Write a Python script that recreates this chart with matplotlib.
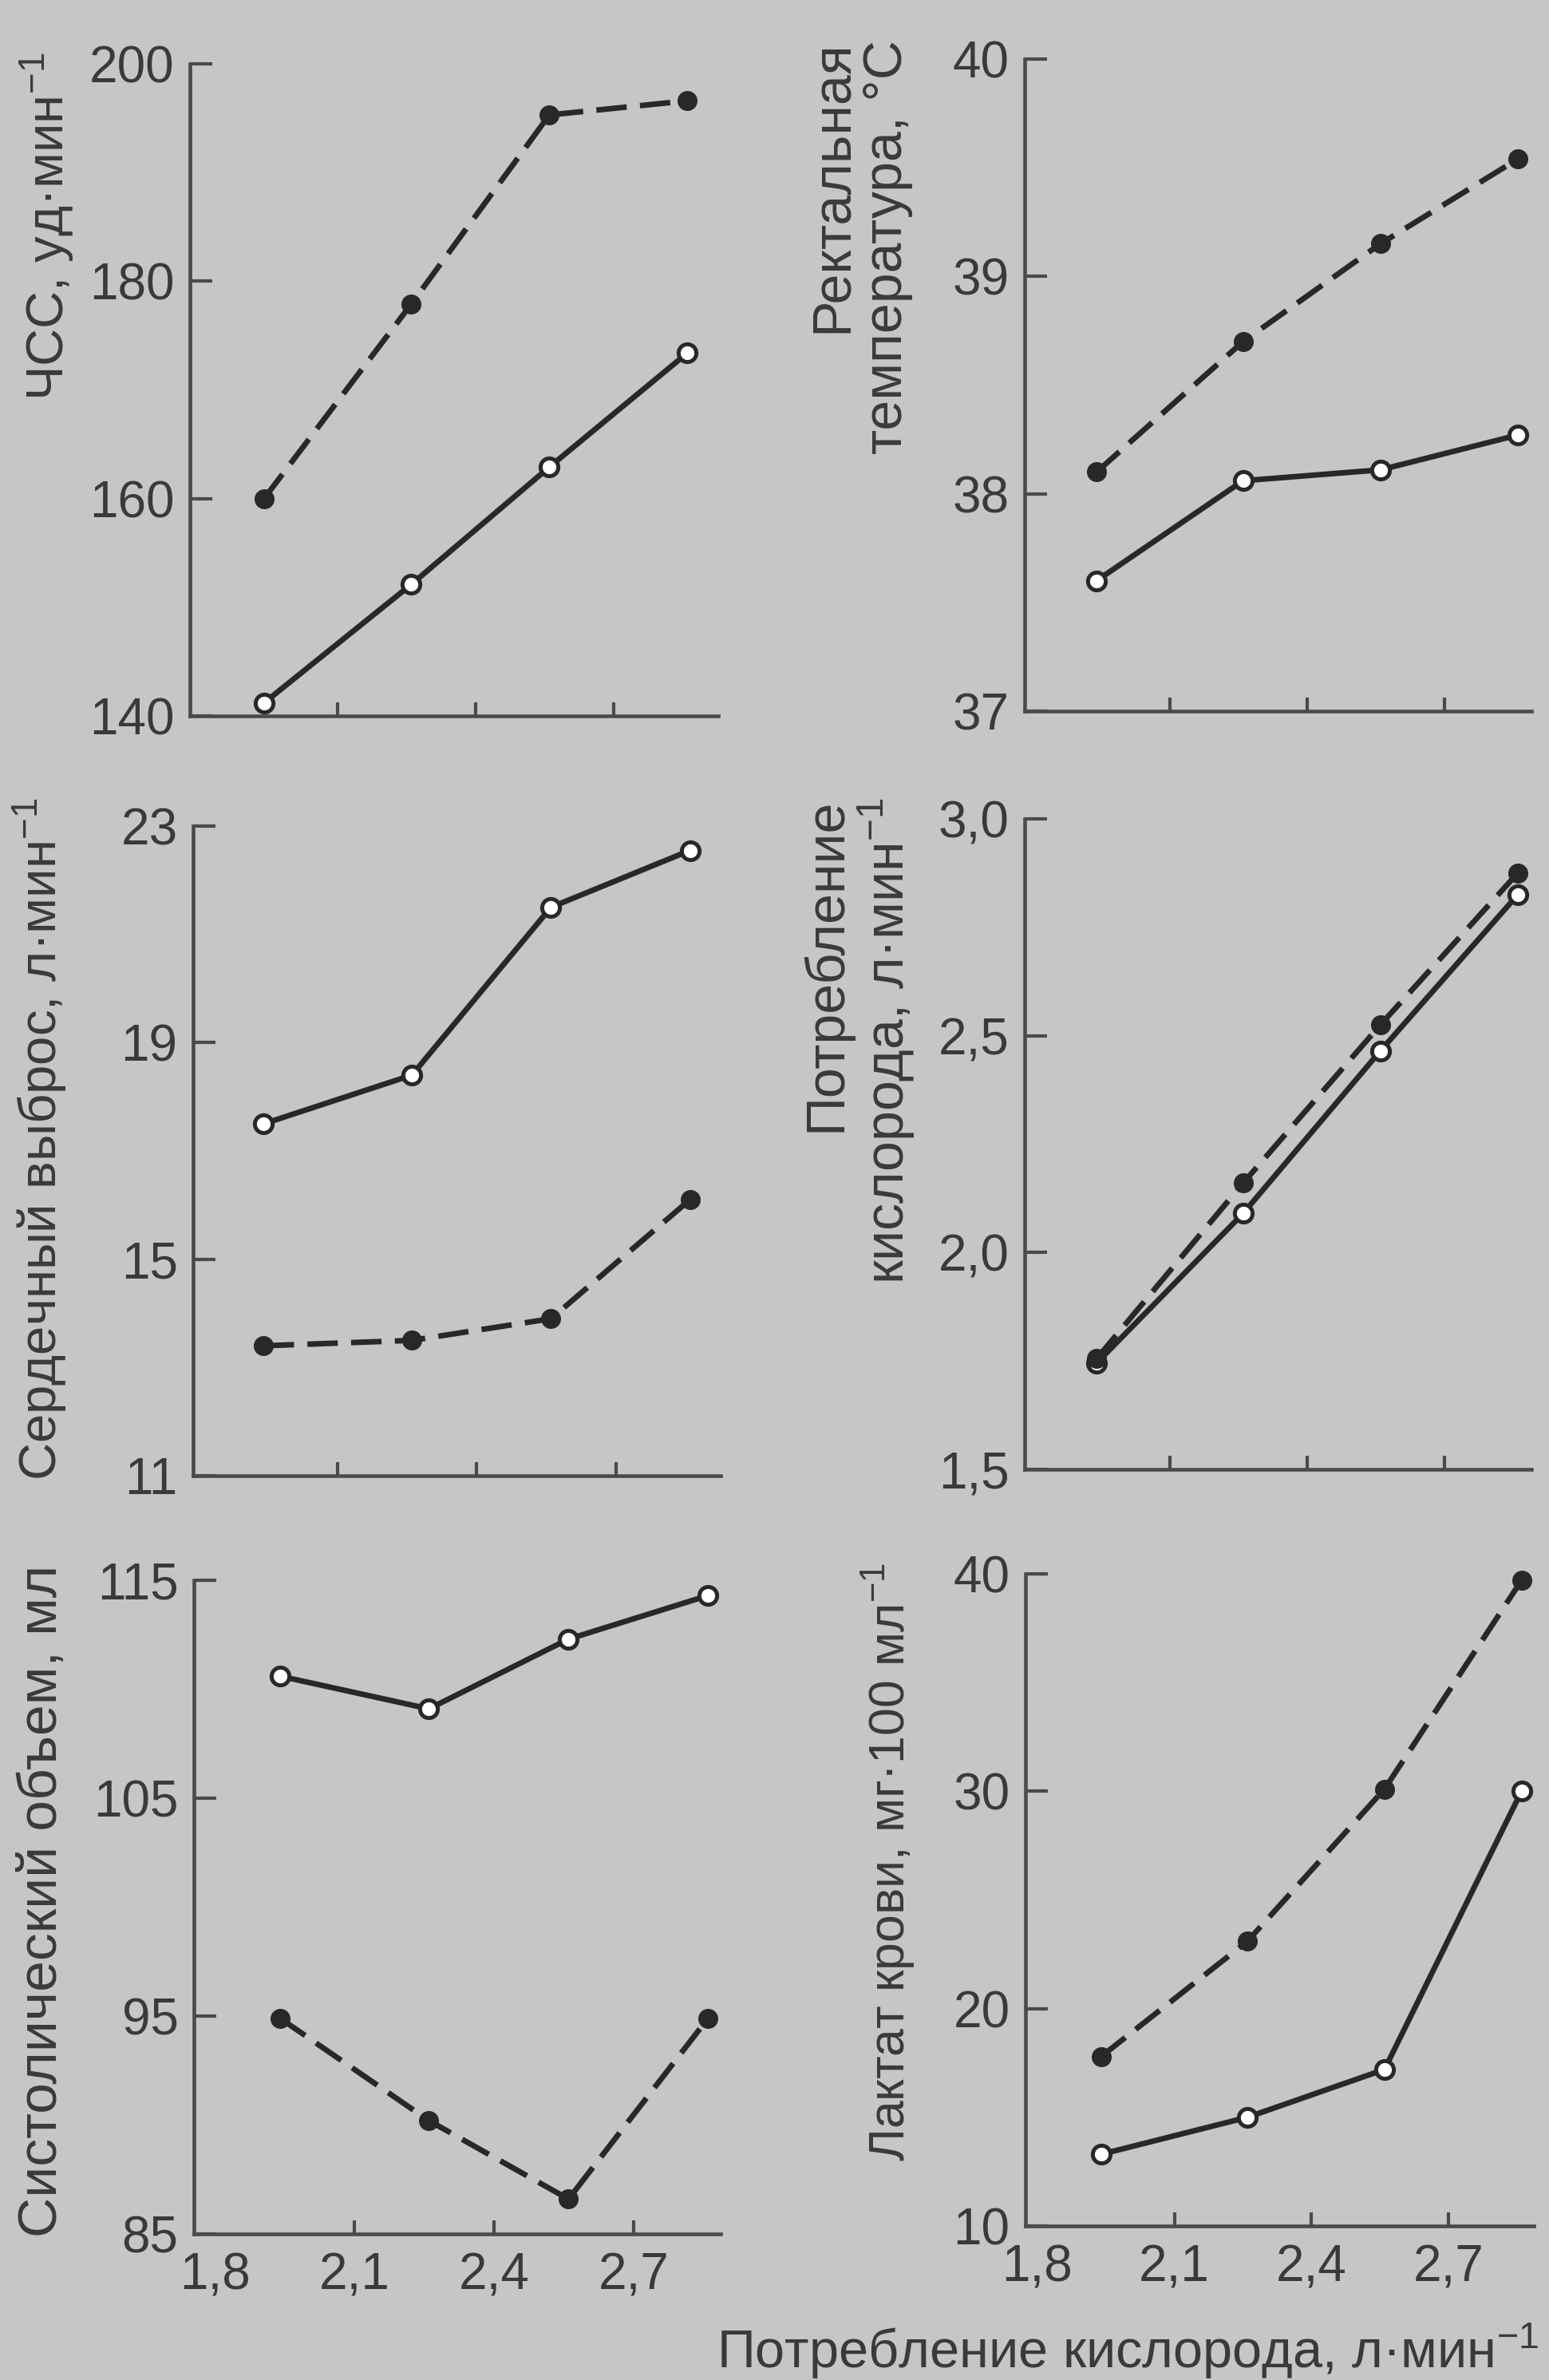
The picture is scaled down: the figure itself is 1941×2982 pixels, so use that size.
import matplotlib.pyplot as plt

plt.rcParams['font.family'] = ['Liberation Sans', 'DejaVu Sans']
plt.rcParams['mathtext.fontset'] = 'custom'
plt.rcParams['mathtext.rm'] = 'Liberation Sans'
plt.rcParams['mathtext.it'] = 'Liberation Sans'
plt.rcParams['mathtext.default'] = 'regular'

# size of the picture in pixels
W, H = 1941, 2982
bg = '#c6c6c5'
ink = '#282828'
axc = '#4a4a4a'
txt = '#3a3a3a'

# потребление кислорода (ось X)
x_vo2 = [1.94, 2.26, 2.56, 2.86]
x_ticks = [1.8, 2.1, 2.4, 2.7]
x_ticklabels = ['1,8', '2,1', '2,4', '2,7']

# ЧСС
hr_open = [141.2, 152.1, 162.9, 173.4]
hr_filled = [160.0, 177.9, 195.3, 196.6]
hr_ticks = [140, 160, 180, 200]

# ректальная температура
temp_open = [37.60, 38.06, 38.11, 38.27]
temp_filled = [38.10, 38.70, 39.15, 39.54]
temp_ticks = [37, 38, 39, 40]

# сердечный выброс
co_open = [17.5, 18.4, 21.5, 22.55]
co_filled = [13.4, 13.5, 13.9, 16.1]
co_ticks = [11, 15, 19, 23]

# потребление кислорода
vo2_open = [1.745, 2.09, 2.465, 2.825]
vo2_filled = [1.755, 2.16, 2.525, 2.875]
vo2_ticks = [1.5, 2.0, 2.5, 3.0]
vo2_ticklabels = ['1,5', '2,0', '2,5', '3,0']

# систолический объем
sv_open = [110.6, 109.1, 112.3, 114.3]
sv_filled = [94.9, 90.2, 86.6, 94.9]
sv_ticks = [85, 95, 105, 115]

# лактат крови
la_open = [13.3, 15.0, 17.2, 30.0]
la_filled = [17.8, 23.1, 30.1, 39.7]
la_ticks = [10, 20, 30, 40]


def rect(l, t, r, b):
    return [l / W, 1 - b / H, (r - l) / W, (b - t) / H]


fig = plt.figure(figsize=(W / 100, H / 100), dpi=100, facecolor=bg)

panels = [
    # box in px, xlim, open, filled, yticks, ylabels, label, label pos (x, top), size
    ((238, 80, 900, 897), (1.779, 2.927), hr_open, hr_filled, hr_ticks, None,
     'ЧСС, уд·мин$^{-1}$', (59, 66), 47),
    ((1284, 74, 1919, 891), (1.783, 2.89), temp_open, temp_filled, temp_ticks, None,
     'Ректальная\nтемпература, °C', (1077, 50), 49),
    ((242, 1035, 903, 1849), (1.788, 2.926), co_open, co_filled, co_ticks, None,
     'Сердечный выброс, л·мин$^{-1}$', (50, 1000), 47),
    ((1284, 1026, 1919, 1841), (1.783, 2.89), vo2_open, vo2_filled, vo2_ticks, vo2_ticklabels,
     'Потребление\nкислорода, л·мин$^{-1}$', (1076, 1000), 49),
    ((243, 1980, 903, 2799), (1.755, 2.887), sv_open, sv_filled, sv_ticks, None,
     'Систолический объем, мл', (53, 1961), 50),
    ((1285, 1972, 1922, 2789), (1.774, 2.887), la_open, la_filled, la_ticks, None,
     'Лактат крови, мг·100 мл$^{-1}$', (1113, 1958), 45),
]

for i, (box, xlim, y_open, y_filled, yt, ytl, label, lpos, lsize) in enumerate(panels):
    ax = fig.add_axes(rect(*box))
    ax.set_facecolor('none')
    ax.plot(x_vo2, y_open, color=ink, lw=5, marker='o', ms=16,
            mfc='white', mec=ink, mew=3.6, clip_on=False, zorder=3)
    ax.plot(x_vo2, y_filled, color=ink, lw=5, dashes=(5.5, 2.4), marker='o', ms=17,
            mfc=ink, mec=ink, mew=1, clip_on=False, zorder=4)
    ax.set_xlim(*xlim)
    ax.set_ylim(yt[0], yt[-1])
    ax.set_yticks(yt)
    ax.set_yticklabels(ytl if ytl else [str(v) for v in yt])
    ax.set_xticks(x_ticks)
    if i >= 4:
        ax.set_xticklabels(x_ticklabels)
    else:
        ax.set_xticklabels([])
    # no tick mark at 1,8
    ax.xaxis.get_major_ticks()[0].tick1line.set_visible(False)
    for s in ['top', 'right']:
        ax.spines[s].set_visible(False)
    for s in ['left', 'bottom']:
        ax.spines[s].set_linewidth(3.3)
        ax.spines[s].set_color(axc)
    ax.tick_params(axis='y', direction='in', length=20, width=3, color=axc,
                   labelsize=46, labelcolor=txt, pad=14)
    ax.tick_params(axis='x', direction='in', length=12, width=3, color=axc,
                   labelsize=46, labelcolor=txt, pad=16)
    fig.text(lpos[0] / W, 1 - lpos[1] / H, label, rotation=90, ha='center', va='top',
             multialignment='right', fontsize=lsize, color=txt, linespacing=1.1)

fig.text(1928 / W, 1 - 2967 / H, 'Потребление кислорода, л·мин$^{-1}$',
         ha='right', va='baseline', fontsize=48, color=txt)

fig.savefig('out.png', dpi=100, facecolor=bg)
